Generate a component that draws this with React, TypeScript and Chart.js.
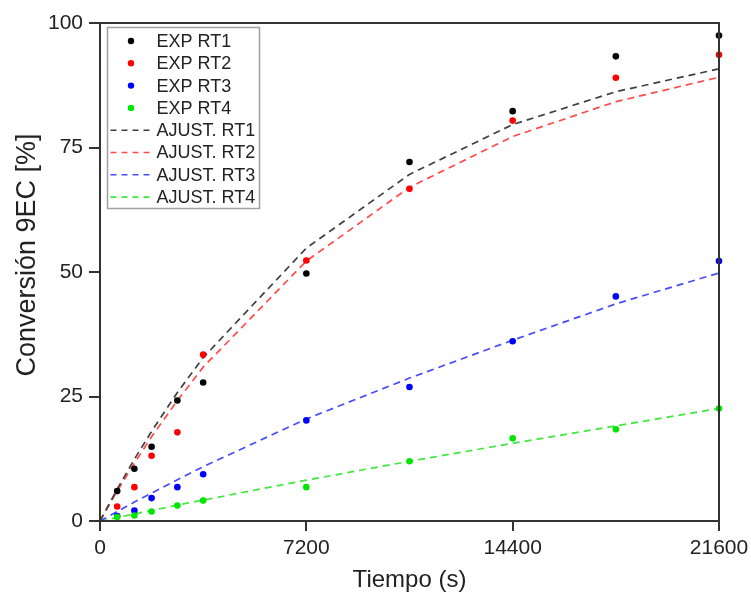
import React, { useEffect, useRef } from "react";
import { Chart, registerables } from "chart.js";
Chart.register(...registerables);

// Experimental sampling times (s)
const timeS = [600, 1200, 1800, 2700, 3600, 7200, 10800, 14400, 18000, 21600];
// Experimental conversion (%)
const expRT1 = [6.0, 10.5, 14.9, 24.2, 27.8, 49.7, 72.1, 82.3, 93.3, 97.5];
const expRT2 = [2.9, 6.8, 13.1, 17.8, 33.4, 52.3, 66.7, 80.4, 89.0, 93.6];
const expRT3 = [1.0, 2.1, 4.6, 6.8, 9.4, 20.2, 26.9, 36.1, 45.1, 52.2];
const expRT4 = [0.8, 1.1, 1.9, 3.1, 4.1, 6.8, 12.0, 16.6, 18.4, 22.6];

// Fitted model curves
const fitTimeS = [0, 600, 1200, 1800, 2700, 3600, 7200, 10800, 14400, 18000, 21600];
const fitRT1 = [0, 6.4, 12.4, 18.0, 25.8, 32.8, 54.8, 69.6, 79.6, 86.2, 90.8];
const fitRT2 = [0, 6.0, 11.6, 16.9, 24.2, 30.9, 52.2, 67.0, 77.2, 84.2, 89.1];
const fitRT3 = [0, 1.9, 3.8, 5.6, 8.3, 10.9, 20.5, 28.7, 36.3, 43.6, 49.8];
const fitRT4 = [0, 0.7, 1.4, 2.1, 3.2, 4.2, 8.2, 12.0, 15.6, 19.1, 22.6];

const expLabels = ["EXP RT1", "EXP RT2", "EXP RT3", "EXP RT4"];
const fitLabels = ["AJUST. RT1", "AJUST. RT2", "AJUST. RT3", "AJUST. RT4"];
const pointColors = ["#000000", "#ff0000", "#0000ff", "#00e600"];
const lineColors = ["#404040", "#ff4a4a", "#4a4aff", "#3ee83e"];

const xTicks = [0, 7200, 14400, 21600];
const yTicks = [0, 25, 50, 75, 100];
const yTitle = "Conversión 9EC [%]";
const xTitle = "Tiempo (s)";

const FONT = "Arial, 'Liberation Sans', Helvetica, sans-serif";

export default function App() {
  const ref = useRef<HTMLCanvasElement>(null);

  useEffect(() => {
    const canvas = ref.current;
    if (!canvas) return;
    const mk = (t: number[], v: number[]) => t.map((x, i) => ({ x, y: v[i] }));
    const expSeries = [expRT1, expRT2, expRT3, expRT4];
    const fitSeries = [fitRT1, fitRT2, fitRT3, fitRT4];

    const framePlugin = {
      id: "frame",
      afterDatasetsDraw(chart: any) {
        const { ctx, chartArea: a } = chart;
        ctx.save();
        ctx.strokeStyle = "#333";
        ctx.lineWidth = 2;
        ctx.strokeRect(a.left, a.top, a.right - a.left, a.bottom - a.top);
        ctx.restore();
      },
    };

    const yTitlePlugin = {
      id: "yTitle",
      afterDraw(chart: any) {
        const { ctx } = chart;
        ctx.save();
        ctx.translate(28, 255);
        ctx.rotate(-Math.PI / 2);
        ctx.font = `27px ${FONT}`;
        ctx.fillStyle = "#222";
        ctx.textAlign = "center";
        ctx.textBaseline = "middle";
        ctx.fillText(yTitle, 0, 0);
        ctx.restore();
      },
    };

    const legendPlugin = {
      id: "boxLegend",
      afterDraw(chart: any) {
        const { ctx, chartArea: a } = chart;
        const bx = a.left + 7.5;
        const by = a.top + 4.5;
        const bw = 152;
        const bh = 181;
        ctx.save();
        ctx.fillStyle = "#fff";
        ctx.fillRect(bx, by, bw, bh);
        ctx.strokeStyle = "#a0a0a0";
        ctx.lineWidth = 1.5;
        ctx.strokeRect(bx, by, bw, bh);
        ctx.font = `18px ${FONT}`;
        ctx.textBaseline = "middle";
        ctx.textAlign = "left";
        const rowH = 22.3;
        const y0 = by + 13.5;
        for (let i = 0; i < 4; i++) {
          const y = y0 + i * rowH;
          ctx.fillStyle = pointColors[i];
          ctx.beginPath();
          ctx.arc(bx + 23.5, y, 3.2, 0, Math.PI * 2);
          ctx.fill();
          ctx.fillStyle = "#222";
          ctx.fillText(expLabels[i], bx + 49, y + 1);
        }
        for (let i = 0; i < 4; i++) {
          const y = y0 + (i + 4) * rowH;
          ctx.strokeStyle = lineColors[i];
          ctx.lineWidth = 1.6;
          ctx.setLineDash([6, 5]);
          ctx.beginPath();
          ctx.moveTo(bx + 3, y);
          ctx.lineTo(bx + 45, y);
          ctx.stroke();
          ctx.setLineDash([]);
          ctx.fillStyle = "#222";
          ctx.fillText(fitLabels[i], bx + 49, y + 1);
        }
        ctx.restore();
      },
    };

    const datasets: any[] = [];
    for (let i = 0; i < 4; i++) {
      datasets.push({
        type: "line",
        label: fitLabels[i],
        data: mk(fitTimeS, fitSeries[i]),
        borderColor: lineColors[i],
        borderWidth: 1.7,
        borderDash: [7, 5],
        pointRadius: 0,
        tension: 0,
        fill: false,
        order: 10 + i,
        clip: 4,
      });
    }
    for (let i = 0; i < 4; i++) {
      datasets.push({
        type: "scatter",
        label: expLabels[i],
        data: mk(timeS, expSeries[i]),
        backgroundColor: pointColors[i],
        borderColor: pointColors[i],
        pointRadius: 3.3,
        pointBorderWidth: 0,
        showLine: false,
        order: 4 - i,
        clip: 6,
      });
    }

    const tickColor = "#333";
    const chart = new Chart(canvas, {
      type: "scatter",
      data: { datasets },
      options: {
        animation: false,
        responsive: true,
        maintainAspectRatio: false,
        layout: { padding: { top: 23, right: 32, left: 0, bottom: 0 } },
        plugins: {
          legend: { display: false },
          tooltip: { enabled: false },
        },
        scales: {
          x: {
            type: "linear",
            min: 0,
            max: 21600,
            afterBuildTicks: (s: any) => {
              s.ticks = xTicks.map((v) => ({ value: v }));
            },
            afterFit: (s: any) => {
              s.height = 77;
              s.paddingLeft = 0;
              s.paddingRight = 0;
            },
            ticks: {
              color: "#222",
              font: { family: FONT, size: 21 },
              padding: 5,
              maxRotation: 0,
              autoSkip: false,
              callback: (v: any) => String(v),
            },
            grid: {
              drawOnChartArea: false,
              drawTicks: true,
              tickLength: 10,
              color: tickColor,
              lineWidth: 2,
            },
            border: { display: false },
            title: {
              display: true,
              text: xTitle,
              color: "#222",
              font: { family: FONT, size: 24 },
              padding: { top: 0, bottom: 3 },
            },
          },
          y: {
            type: "linear",
            min: 0,
            max: 100,
            afterBuildTicks: (s: any) => {
              s.ticks = yTicks.map((v) => ({ value: v }));
            },
            afterFit: (s: any) => {
              s.width = 100;
              s.paddingTop = 0;
              s.paddingBottom = 0;
            },
            ticks: {
              color: "#222",
              font: { family: FONT, size: 21 },
              padding: 6,
              autoSkip: false,
              callback: (v: any) => String(v),
            },
            grid: {
              drawOnChartArea: false,
              drawTicks: true,
              tickLength: 11,
              color: tickColor,
              lineWidth: 2,
            },
            border: { display: false },
            title: { display: false },
          },
        },
      },
      plugins: [framePlugin, legendPlugin, yTitlePlugin],
    } as any);

    return () => chart.destroy();
  }, []);

  return (
    <div
      style={{
        position: "fixed",
        left: 0,
        top: 0,
        width: 751,
        height: 598,
        background: "#fff",
      }}
    >
      <canvas ref={ref} />
    </div>
  );
}
